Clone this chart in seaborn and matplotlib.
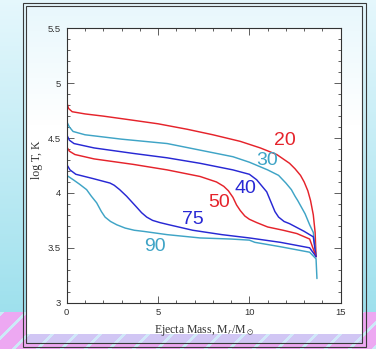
import numpy as np
import pandas as pd
import matplotlib
matplotlib.use("Agg")
import matplotlib.pyplot as plt
from matplotlib.patches import Rectangle
import seaborn as sns

# ---------------- data ----------------
x20 = [0, 0.1, 0.3, 1, 2, 3.3, 5, 6.6, 8, 9.5, 10.6, 11.5, 12.2, 12.5, 12.8, 13.0, 13.2, 13.35, 13.5, 13.6, 13.65]
y20 = [4.83, 4.77, 4.74, 4.72, 4.70, 4.67, 4.63, 4.58, 4.53, 4.47, 4.41, 4.35, 4.27, 4.22, 4.16, 4.10, 4.02, 3.93, 3.80, 3.64, 3.42]

x30 = [0, 0.15, 0.35, 1, 3, 5.5, 7.3, 9.1, 10, 11, 11.6, 12.0, 12.3, 12.5, 12.65, 12.85, 13.05, 13.3, 13.5, 13.65]
y30 = [4.65, 4.60, 4.56, 4.53, 4.49, 4.45, 4.39, 4.33, 4.28, 4.21, 4.16, 4.09, 4.03, 3.97, 3.93, 3.87, 3.81, 3.71, 3.64, 3.42]

x40 = [0, 0.15, 0.4, 1.5, 3.65, 5.5, 7.3, 9.1, 10, 10.4, 10.7, 10.95, 11.2, 11.4, 11.6, 11.9, 12.2, 13.0, 13.5, 13.65]
y40 = [4.53, 4.48, 4.45, 4.41, 4.36, 4.32, 4.27, 4.21, 4.17, 4.12, 4.06, 4.01, 3.91, 3.83, 3.78, 3.74, 3.72, 3.65, 3.60, 3.42]

x50 = [0, 0.15, 0.45, 1.5, 3.65, 5.5, 7.3, 8.2, 8.6, 8.85, 9.1, 9.3, 9.5, 9.75, 10.0, 10.4, 11.0, 11.85, 12.6, 13.3, 13.65]
y50 = [4.42, 4.38, 4.35, 4.31, 4.26, 4.21, 4.15, 4.10, 4.06, 4.02, 3.96, 3.89, 3.84, 3.79, 3.76, 3.73, 3.69, 3.66, 3.63, 3.58, 3.42]

x75 = [0, 0.18, 0.5, 1.46, 2.37, 2.6, 2.9, 3.28, 3.5, 3.83, 4.1, 4.38, 4.7, 5.1, 5.6, 6.9, 8.5, 10.0, 11.7, 13.3, 13.65]
y75 = [4.26, 4.21, 4.17, 4.13, 4.09, 4.07, 4.03, 3.97, 3.93, 3.87, 3.82, 3.78, 3.75, 3.73, 3.71, 3.66, 3.62, 3.59, 3.55, 3.50, 3.42]

x90 = [0, 0.36, 0.7, 1.09, 1.35, 1.64, 1.9, 2.1, 2.4, 2.74, 3.2, 3.7, 4.2, 5.5, 7.3, 9.0, 10.0, 10.3, 11.7, 13.3, 13.65, 13.7]
y90 = [4.16, 4.12, 4.08, 4.03, 3.97, 3.91, 3.83, 3.78, 3.74, 3.71, 3.68, 3.66, 3.65, 3.62, 3.59, 3.58, 3.57, 3.55, 3.51, 3.46, 3.40, 3.22]

labels = ["20", "30", "40", "50", "75", "90"]
label_x = [11.95, 10.96, 9.81, 8.34, 6.92, 4.83]
label_y = [4.48, 4.30, 4.04, 3.91, 3.76, 3.51]

RED, CYAN, BLUE = "#e5232b", "#3fa4c6", "#2828d4"
colors = [RED, CYAN, BLUE, RED, BLUE, CYAN]

xticks = [0, 5, 10, 15]
yticks = [3, 3.5, 4, 4.5, 5, 5.5]
ytick_labels = ["3", "3.5", "4", "4.5", "5", "5.5"]

# ---------------- figure ----------------
sns.set_theme(style="ticks")
plt.rcParams["font.family"] = ["Liberation Sans", "DejaVu Sans"]
plt.rcParams["mathtext.fontset"] = "stix"

W, H = 376, 349
fig = plt.figure(figsize=(W / 100, H / 100), dpi=100)

# decorative slide background
bg = fig.add_axes([0, 0, 1, 1], zorder=-10)
yy, xx = np.mgrid[0:H, 0:W]
img = np.zeros((H, W, 3))
t = np.clip(yy / 312.0, 0, 1)[..., None]
top = np.array([0.90, 0.97, 0.99])
bot = np.array([0.62, 0.88, 0.93])
img[:] = top * (1 - t) + bot * t
pink = (yy >= 312)
img[pink] = [0.93, 0.66, 0.95]
stripe = pink & (((xx + yy) % 24) < 4)
img[stripe] = [0.80, 0.92, 0.97]
# frame interior
inner = (xx >= 26) & (xx <= 362) & (yy >= 5) & (yy <= 343)
ti = np.clip((yy - 5) / 120.0, 0, 1)[..., None]
inner_col = np.array([0.91, 0.97, 0.99]) * (1 - ti) + np.array([1.0, 1.0, 1.0]) * ti
img[inner] = inner_col[inner]
band = inner & (yy >= 334)
img[band] = [0.82, 0.78, 0.96]
img[band & (((xx + yy) % 24) < 4)] = [0.82, 0.91, 0.98]
bg.imshow(img, extent=[0, W, H, 0], aspect="auto", interpolation="bilinear")
bg.add_patch(Rectangle((22.5, 2.5), 343, 344, fill=False, ec="#3a3a3a", lw=0.8))
bg.add_patch(Rectangle((26, 5.5), 336, 337.8, fill=False, ec="#3a3a3a", lw=0.8))
bg.set_xlim(0, W)
bg.set_ylim(H, 0)
bg.axis("off")

ax = fig.add_axes([66.7 / W, 1 - 302.7 / H, (340.7 - 66.7) / W, (302.7 - 28.3) / H])
ax.set_facecolor("white")

series = [(x20, y20), (x30, y30), (x40, y40), (x50, y50), (x75, y75), (x90, y90)]
for (xs, ys), c in zip(series, colors):
    sns.lineplot(x=xs, y=ys, color=c, lw=1.05, sort=False, estimator=None, ax=ax)

for lab, lx, ly, c in zip(labels, label_x, label_y, colors):
    ax.text(lx, ly, lab, color=c, fontsize=14, ha="center", va="center",
            family=["Liberation Sans", "DejaVu Sans"])

ax.set_xlim(0, 15)
ax.set_ylim(3, 5.5)
ax.set_xticks(xticks)
ax.set_xticklabels([str(v) for v in xticks])
ax.set_yticks(yticks)
ax.set_yticklabels(ytick_labels)
ax.xaxis.set_minor_locator(matplotlib.ticker.MultipleLocator(1))
ax.yaxis.set_minor_locator(matplotlib.ticker.MultipleLocator(0.1))
ax.tick_params(which="both", direction="in", top=True, right=True, color="#444444",
               width=0.6, labelsize=6.8, labelcolor="#333333")
ax.tick_params(which="major", length=4.7, pad=4)
ax.tick_params(which="minor", length=2.5)
for s in ax.spines.values():
    s.set_visible(True)
    s.set_color("#333333")
    s.set_linewidth(0.8)

ax.set_xlabel(r"Ejecta Mass, M$_r$/M$_\odot$", family=["Liberation Serif", "DejaVu Serif"],
              fontsize=8.5, color="#333333", labelpad=4)
ax.set_ylabel("log T, K", family=["Liberation Serif", "DejaVu Serif"],
              fontsize=8.5, color="#333333")
ax.yaxis.set_label_coords(-0.088, 0.52)

fig.savefig("out.png", dpi=100)
